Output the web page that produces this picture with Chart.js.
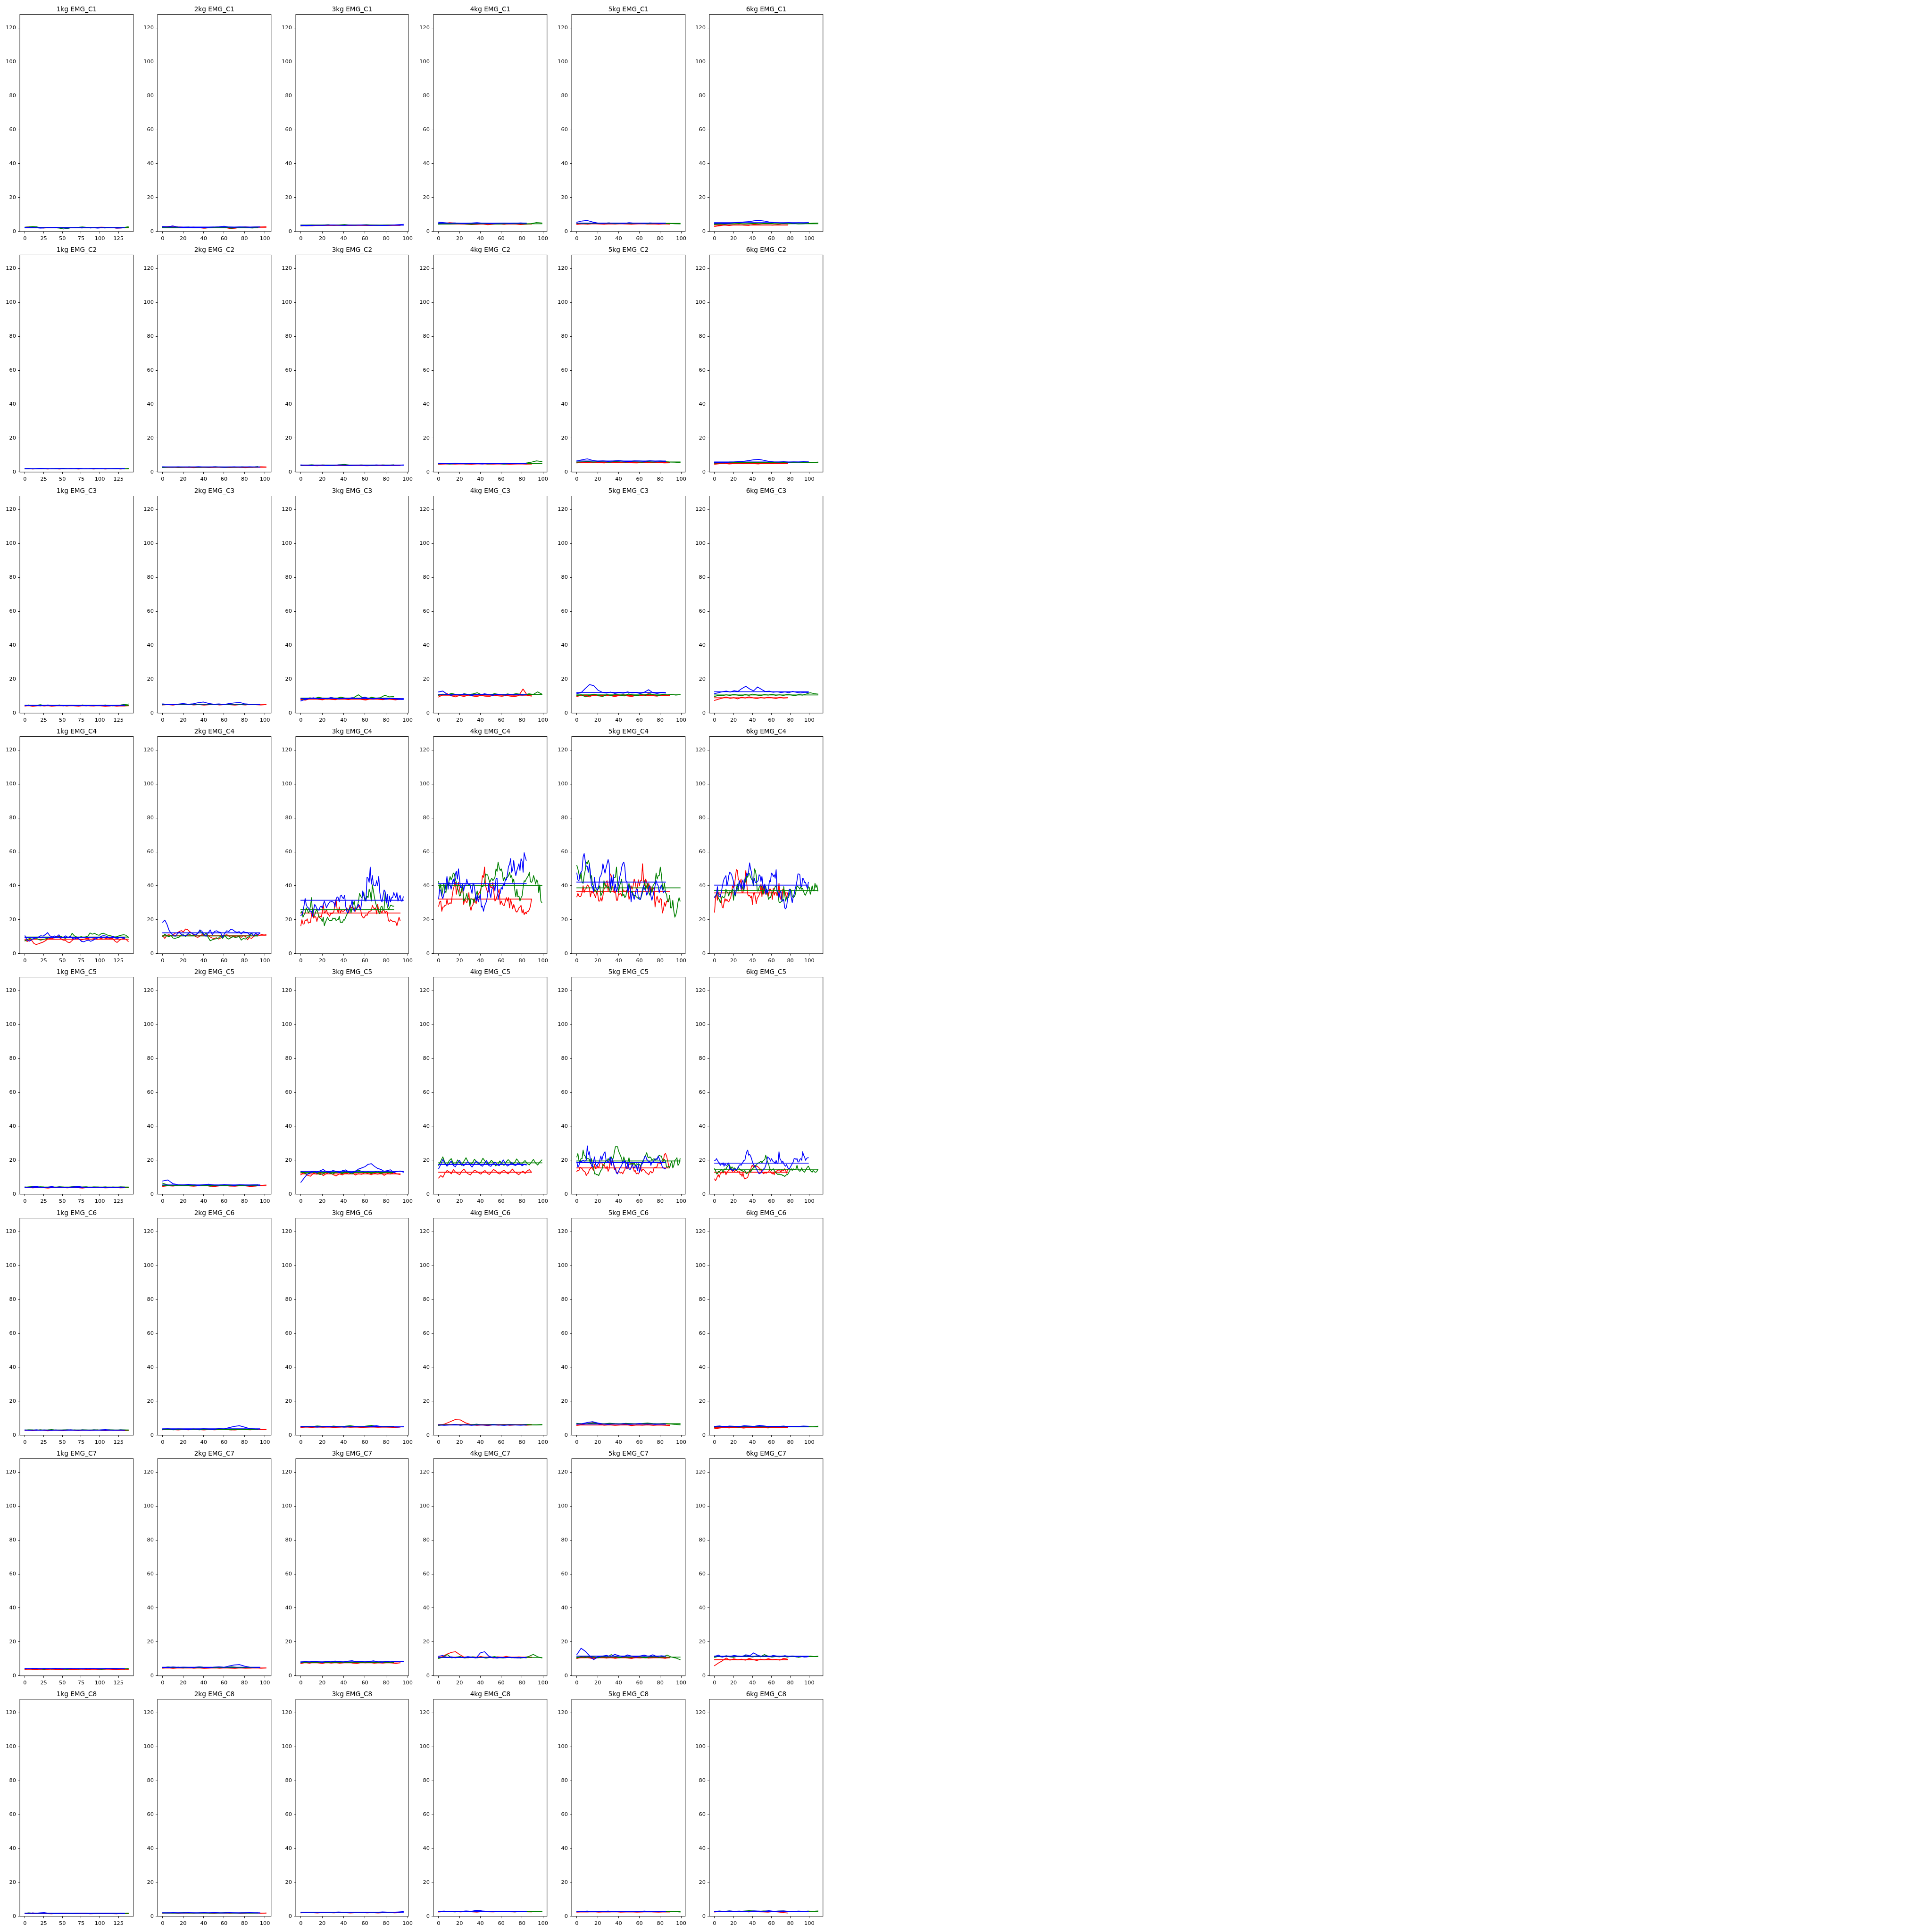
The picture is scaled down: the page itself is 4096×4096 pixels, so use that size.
<!DOCTYPE html>
<html><head><meta charset="utf-8">
<script src="https://cdn.jsdelivr.net/npm/chart.js"></script>
<style>
html,body{margin:0;padding:0;background:#fff;}
#wrap{position:relative;width:4096px;height:4096px;overflow:hidden;background:#fff;}
.cell{position:absolute;}
.cell canvas{display:block;}
</style>
</head><body><div id="wrap"></div>
<script>
// ---------------- DATA ----------------
const weights = ['1kg', '2kg', '3kg', '4kg', '5kg', '6kg'];
const channels = ['EMG_C1', 'EMG_C2', 'EMG_C3', 'EMG_C4', 'EMG_C5', 'EMG_C6', 'EMG_C7', 'EMG_C8'];
const colors = ['red', 'green', 'blue'];
// last sample index of each trial, per weight
const redLast = [138, 101, 93, 89, 89, 77];
const greenLast = [138, 93, 87, 99, 99, 109];
const blueLast = [133, 95, 96, 84, 85, 99];
const yTicks = [0, 20, 40, 60, 80, 100, 120];
const xTicks1kg = [0, 25, 50, 75, 100, 125];
const xTicksOther = [0, 20, 40, 60, 80, 100];

// ---- EMG_C1 ----
const C1_red = [
 [2.5,2.7,2.8,2.6,2.2,2.1,2.2,2.3,2.2,2.4,2.3,2.1,2.2,2.3,2.2,2.3,2.4,2.2,2.3,2.5,2.6,2.5,2.4,2.2,2.0,2.1,2.2,2.3],
 [2.8,3.0,3.1,2.7,2.5,2.4,2.6,2.3,1.9,2.2,2.5,2.6,2.4,1.8,1.9,2.4,2.7,2.5,2.6,2.7,2.8],
 [3.3,3.5,3.4,3.6,3.5,3.7,3.6,3.8,3.7,3.6,3.8,3.7,3.5,3.6,3.7,3.5,3.6,3.8,3.7],
 [4.6,4.8,5.2,5.0,4.6,4.3,4.1,4.2,4.4,4.0,4.3,4.5,4.2,4.6,4.4,4.1,4.3,4.5],
 [4.2,4.6,4.3,4.8,4.5,4.3,4.6,4.4,4.7,4.5,4.3,4.6,4.8,4.4,4.5,4.3,4.6,4.4],
 [3.0,3.4,3.8,3.5,3.9,4.0,3.7,3.6,4.2,4.0,3.8,3.9,3.7,4.1,3.8,3.9]];
const C1_green = [
 [2.6,2.7,2.9,2.8,2.3,2.2,2.4,2.3,2.2,2.0,1.5,1.7,2.2,2.3,2.5,2.7,2.5,2.4,2.3,2.2,2.2,2.4,2.3,2.1,2.5,2.3,2.4,2.8],
 [2.3,2.4,2.2,2.3,2.5,2.6,2.2,2.4,2.1,2.3,2.4,2.5,2.4,1.9,2.3,2.4,2.2,2.1,2.3],
 [3.4,3.6,3.9,3.7,3.8,4.0,3.7,3.9,4.1,3.8,3.7,3.9,4.0,3.8,3.6,3.7,3.9,3.8],
 [4.3,4.5,4.4,4.6,4.7,4.5,4.3,4.6,4.8,4.7,4.5,4.4,4.6,4.8,5.0,4.7,4.4,4.6,5.3,5.0],
 [5.0,4.8,4.6,5.0,4.7,4.9,5.1,4.6,4.8,4.9,4.7,5.0,4.8,4.6,4.9,5.0,4.7,4.8,4.6,4.5],
 [4.2,4.4,4.3,4.6,4.5,4.7,4.4,4.6,4.8,4.5,4.7,4.9,4.6,4.5,4.7,4.6,4.8,4.5,4.6,4.7,4.9,5.0]];
const C1_blue = [
 [2.5,2.4,2.3,2.2,2.0,2.1,2.4,2.3,2.5,2.2,2.1,2.0,2.2,2.3,2.2,2.1,2.3,2.1,2.2,2.0,2.2,2.1,2.3,2.2,2.0,2.1,2.2],
 [3.0,2.7,3.3,2.6,2.3,2.4,2.2,2.3,2.3,2.5,2.6,2.8,3.1,2.6,2.5,2.7,2.6,2.5,2.6,2.7],
 [3.6,3.4,3.5,3.7,3.6,3.8,3.9,3.7,3.6,3.8,3.7,3.9,3.8,3.6,3.7,3.5,3.6,3.8,4.0,4.2],
 [5.5,5.2,4.9,5.1,4.8,4.7,5.0,5.2,4.9,4.8,4.7,4.9,5.0,4.8,4.9,5.1,4.9],
 [5.5,6.2,6.5,5.6,5.0,4.8,5.1,4.9,5.0,4.7,5.2,4.9,5.0,4.8,5.1,4.9,4.8,4.9],
 [4.8,5.0,4.7,4.9,5.2,5.4,5.6,5.8,6.3,6.5,6.2,5.6,5.3,5.1,5.0,5.2,4.9,5.1,5.0,5.2]];
const C1_mean = [[2.3,2.4,2.2],[2.5,2.3,2.6],[3.6,3.8,3.7],[4.4,4.6,4.9],[4.5,4.8,5.0],[3.8,4.6,5.2]];

// ---- EMG_C2 ----
const C2_red = [
 [1.9,2.0,1.8,1.9,2.1,1.9,1.8,2.0,1.9,1.8,1.9,2.0,2.1,1.9,1.8,1.9,2.0,1.9,1.8,2.0,1.9,1.8,1.9,2.0,1.9,1.8,1.9,2.0],
 [2.9,2.8,3.0,2.7,2.8,2.9,2.6,2.8,2.9,2.7,2.8,3.0,2.8,2.7,2.9,2.8,2.6,2.8,2.9,3.1,3.0],
 [3.8,4.0,3.9,3.7,4.0,3.9,3.8,4.1,3.9,3.8,4.0,3.9,3.7,3.9,4.0,3.8,3.9,4.0,3.9],
 [4.6,4.8,5.0,4.7,4.9,4.8,4.6,4.9,5.0,4.8,4.7,4.9,4.8,4.6,4.8,4.9,4.7,4.8],
 [5.4,5.6,5.5,5.8,5.6,5.4,5.7,5.5,5.6,5.8,5.5,5.4,5.6,5.7,5.5,5.6,5.4,5.5],
 [4.6,4.9,5.1,4.8,5.0,5.2,4.9,5.1,5.0,4.8,5.2,5.0,4.9,5.1,5.0,5.2]];
const C2_green = [
 [2.0,2.1,1.9,2.0,2.1,2.0,1.9,2.0,2.1,2.0,2.2,2.0,1.9,2.0,2.1,2.0,1.9,2.0,2.1,2.0,1.9,2.0,2.1,2.0,2.1,2.0,1.9,2.1],
 [2.7,2.9,3.0,2.8,2.9,3.1,2.9,2.8,3.0,2.9,3.2,2.9,2.8,3.0,2.9,3.1,3.0,2.9,3.3],
 [3.9,4.1,4.3,4.0,4.2,4.1,3.9,4.3,4.5,4.1,4.0,4.2,4.1,3.9,4.0,4.2,4.1,4.3],
 [4.8,5.0,4.7,4.9,5.1,4.8,5.0,4.9,5.2,4.8,4.9,5.0,4.7,4.9,5.1,5.0,5.3,5.8,6.6,6.2],
 [5.8,6.0,6.2,5.9,6.1,6.0,5.8,6.2,6.0,5.9,6.1,6.0,5.8,6.1,5.9,6.0,6.2,5.9,5.8,5.6],
 [5.3,5.5,5.4,5.7,5.6,5.5,5.8,5.6,5.5,5.7,5.6,5.8,5.5,5.6,5.7,5.5,5.6,5.8,5.6,5.5,5.7,5.9]];
const C2_blue = [
 [2.1,2.0,1.9,2.0,2.2,2.1,2.0,1.9,2.0,2.1,2.0,1.9,2.1,2.0,2.2,2.0,1.9,2.0,2.1,2.0,2.1,2.0,1.9,2.0,2.1,2.0,2.1],
 [3.1,3.0,2.9,3.1,3.0,2.9,3.0,3.2,3.0,2.9,3.1,3.0,2.8,3.0,3.1,2.9,3.0,3.1,3.0,2.9],
 [4.2,4.0,3.9,4.1,4.0,3.8,4.0,4.2,4.1,3.9,4.0,4.1,3.9,4.0,4.2,4.0,3.9,4.1,4.0,4.2],
 [5.2,5.0,4.9,5.3,5.1,4.9,5.2,5.0,4.8,5.1,5.0,4.9,5.2,5.0,4.9,5.1,5.0],
 [6.5,7.2,7.8,6.9,6.4,6.6,6.3,6.5,6.8,6.4,6.2,6.6,6.5,6.3,6.7,6.4,6.5,6.3],
 [5.6,5.8,5.5,5.9,6.0,6.2,6.4,6.8,7.3,7.5,6.9,6.3,6.0,5.9,6.1,5.8,6.0,5.9,6.1,6.0]];
const C2_mean = [[1.9,2.0,2.0],[2.8,2.9,3.0],[3.9,4.1,4.0],[4.8,5.0,5.0],[5.6,6.0,6.5],[5.0,5.6,6.0]];

// ---- EMG_C3 ----
const C3_red = [
 [4.2,4.5,4.0,4.3,4.6,4.2,4.4,4.1,4.3,4.6,4.4,4.2,4.5,4.3,4.1,4.4,4.6,4.3,4.2,4.5,4.3,4.0,4.2,4.4,4.1,4.3,4.2,4.4],
 [4.8,5.0,4.7,5.2,4.9,5.1,4.8,5.0,4.7,4.9,5.1,4.8,5.0,4.9,4.7,5.0,4.8,5.1,4.9,4.8,5.0],
 [8.0,7.6,8.4,9.0,8.2,7.8,8.5,8.1,7.9,8.6,8.3,8.0,8.4,8.8,8.1,7.7,8.3,8.6,8.2,7.9,8.4,8.1,7.8,8.2],
 [9.5,10.8,11.5,10.2,9.6,10.4,9.8,10.6,10.1,9.7,10.5,10.0,9.8,10.6,10.2,9.9,10.4,10.0,9.7,10.3,14.2,10.5,10.0],
 [9.8,10.5,10.1,9.6,10.8,10.2,9.9,10.6,10.3,9.7,10.4,10.9,10.1,9.8,10.5,10.2,10.7,11.5,10.3,10.0,10.6,10.2,10.4],
 [7.5,8.2,8.8,9.5,8.7,9.1,8.4,9.3,8.9,9.6,9.0,8.5,9.2,8.8,9.4,9.0,8.6,9.3,8.9,9.1]];
const C3_green = [
 [4.5,4.8,4.4,4.6,4.9,4.5,4.7,4.4,4.6,4.8,4.5,4.3,4.7,4.6,4.4,4.8,4.6,4.5,4.7,4.4,4.6,4.8,4.5,4.3,4.6,4.8,5.1,5.3],
 [4.9,5.2,5.0,5.3,5.1,4.9,5.2,5.0,5.3,5.1,4.9,5.2,5.0,5.4,5.1,4.9,5.2,5.0,5.1],
 [8.5,8.2,9.0,8.6,9.3,8.8,8.4,9.1,8.7,9.4,8.9,8.6,9.2,10.8,9.0,8.5,9.3,8.8,9.1,10.5,9.6,9.8],
 [10.5,11.2,10.8,11.6,11.0,10.6,11.4,10.9,11.3,12.0,10.8,11.2,10.7,11.5,11.0,10.6,11.3,10.9,11.5,11.1,10.8,11.4,11.0,12.5,11.2],
 [10.2,10.8,9.6,10.5,11.2,10.4,9.8,10.9,10.3,11.0,10.6,10.1,11.3,10.7,10.2,11.0,10.5,11.4,10.8,10.3,11.1,10.7,11.0,10.6,10.9],
 [9.8,10.5,10.2,10.8,10.4,11.0,10.6,10.2,10.9,10.5,11.2,10.7,10.3,10.9,10.6,11.1,10.5,10.8,10.4,11.0,10.7,10.3,10.9,10.6,11.3,12.0,11.5,11.2]];
const C3_blue = [
 [4.6,4.4,4.7,4.5,4.3,4.6,4.8,4.5,4.4,4.6,4.3,4.5,4.7,4.4,4.6,4.5,4.3,4.6,4.4,4.5,4.7,4.4,4.3,4.5,4.6,4.7,4.8],
 [5.4,5.1,5.0,5.3,5.6,5.2,5.5,6.2,6.5,5.7,5.2,5.4,5.1,5.6,6.0,6.3,5.5,5.2,5.3,5.1],
 [7.2,8.0,8.6,9.0,8.4,8.8,8.5,9.2,8.7,8.3,8.9,8.6,9.1,8.5,8.8,9.4,8.6,8.3,8.9,8.5,8.2,8.7,8.4,8.1,8.0],
 [12.5,13.0,11.2,10.5,11.0,10.6,11.3,10.8,10.4,11.1,10.7,11.4,10.9,10.5,11.2,10.8,10.6,11.0,10.7,10.9,10.6,10.8],
 [11.5,12.0,14.5,16.8,16.2,13.5,12.3,11.8,12.4,11.6,12.1,11.7,12.5,11.9,12.2,11.5,12.3,13.8,12.0,11.6,12.1,11.8],
 [11.5,12.0,12.6,13.0,12.4,13.2,12.8,14.5,15.8,14.2,13.1,15.4,14.0,12.7,12.9,12.3,12.6,12.1,12.5,12.0,12.8,12.2,11.9,12.3,12.1]];
const C3_mean = [[4.3,4.6,4.5],[4.9,5.1,5.3],[8.2,8.8,8.6],[10.2,11.0,10.8],[10.4,10.8,12.2],[9.0,10.7,12.6]];

// ---- EMG_C4 ----
const C4_red = [
 [8.0,7.2,8.1,7.8,6.0,5.4,5.8,6.3,6.8,7.5,8.5,9.0,8.8,9.4,9.8,10.2,8.6,8.0,7.9,6.8,6.5,7.8,8.7,9.2,8.6,8.0,8.4,8.8,9.1,8.5,8.7,9.0,8.4,8.6,9.0,8.5,8.9,9.3,8.8,9.1,7.5,6.6,7.8,8.6,9.0,8.5,7.2],
 [10.5,9.0,10.8,11.2,10.6,11.0,12.0,12.3,13.0,13.6,12.8,14.5,14.2,13.0,12.2,11.0,10.0,9.6,10.4,11.2,10.8,12.0,10.6,9.8,9.2,9.0,9.4,8.6,9.2,10.5,10.8,11.2,10.4,9.6,10.2,10.0,9.8,10.4,9.6,10.6,10.2,8.2,9.5,9.0,10.0,11.0,11.2,10.8,11.4,11.0,11.2],
 [16.5,20,17.5,17.5,19.8,19.5,20.5,18,18.5,18.5,23,27,21,22,21.5,19,21.5,22,22,21.5,24,29,24,24.5,26,23.5,23,22,24,23.5,24,25,30,32,26,24,27.5,24,25.5,25,25,25.5,26,27,25.5,24,28.5,27,27.5,26.5,27,25,26.5,27,28,28.5,26,22.5,21.5,21,22,23,22.5,24,25,25,25.5,28.5,27,26.5,27,23.5,29,25,25,25,24,26,25.5,24,25,24.5,19.5,19,20,19.5,19,19,19,18.5,16.5,19,21.5,19.5],
 [28,30.5,31,25,27.5,27.5,28.5,28.5,32,29,29.5,30,29.5,34,38,40,42,35,39,42,38,35,37,40,29,32,31,30,32,36,28,25.5,28,29,32,31,29.5,33,35,36,37,40,46,45,51,40,38,36,37,42,39,39,42,36,31,32,34,36,38,29,31,29.5,28.5,28.5,31,33,31,33,27,32,29.5,26.5,29,27,25,24.5,25.5,27,27.5,28.5,24,26,23,24.5,23.5,25,25,26,28,32],
 [33.5,35.5,34,33.5,34,36,40,36,38,38.5,40.5,40,39,33.5,36.5,36,36,34.5,33,37,35,31,31,33,31,34,38,39,42,43,37,41,47,46,42,36.5,36,37,31.5,31.5,35.5,35,35.5,34,38,36.5,37,36.5,37.5,38.5,32,34,40,38,40,44,42,38,39,43.5,40,43,43,53,43,40,44,42,38,41.5,37,39.5,37,38,39,27.5,32,34,31,30,32.5,32,24,26,30,28,31,30.5,31.5,33.5],
 [24.5,33,35.5,31.5,36,35,35,32,27.5,27,30,32.5,31,32,31,30.5,32,33,36,40,39,40,45,49.5,49,44,43,42,44,36,36,41,43.5,49,41,35,34,34.5,33,34,29,35.5,36,33.5,29.5,32.5,33.5,34.5,36,41,33.5,40.5,35,38.5,36.5,35,37,34,38,38,36,32,38.5,34.5,36,36,34,36,41.5,34,32,33,38,37.5,37,35,33,35.5]];
const C4_green = [
 [7.5,8.2,9.0,8.6,8.8,9.2,8.4,8.0,8.3,8.7,9.1,9.5,9.8,9.3,9.6,9.9,10.2,9.4,9.1,9.7,9.5,12.0,10.5,9.8,9.4,10.0,9.6,9.9,10.3,12.2,11.5,12.0,11.2,10.8,11.8,12.0,11.4,10.8,10.6,10.2,9.8,10.0,10.6,10.9,11.2,10.8,9.6],
 [10.0,11.5,10.6,10.0,10.8,9.2,9.0,9.4,9.8,11.0,11.2,10.2,11.5,11.4,10.6,10.8,11.2,12.0,13.5,12.0,11.0,12.0,9.6,7.6,8.2,8.6,8.8,9.2,10.4,9.0,10.8,9.2,8.6,9.4,10.0,9.6,9.8,10.0,8.0,9.0,8.6,9.4,10.2,12.0,10.6,10.8,10.4],
 [24,25,21.5,23,24,27,26,24,25,28,33,22.5,22,23,25,26,24,21.5,21,20.5,19,21.5,16.5,18.5,20,21.5,20,19.5,19.5,19.5,21,20.5,21,19.5,20,20,22,18.5,18.5,18.5,20,19.8,21.5,23,24,26,27.5,24,27,29,31,27,26,28,31,35.5,34,33,34,36,31,31.5,34,33,38,36,31,40.5,37,33,30,28,26,24.5,23.5,27.5,28,25.5,26.5,36,32,28,26,27,28.5,28.5,28,28],
 [42.5,38,41,34,38,41.5,37,36,42,40,43,45.5,43.5,45,47.5,47,44,42,38.5,37,34,34.5,38,39.5,31,32,33,35.5,32,32.5,28,32.5,32,32,30,33,35,37,33,33,35,40,39.5,40,42,47,46.5,46.5,44,42,43.5,44.5,43,44,45,50,48.5,54,51,49,50,48,43,45,43,45,45,46,48,45,46,42,44,37.5,33.5,38,33.5,34,31,33,34,39,43,42.5,44,45,46,48,42.5,42,43,46,44,41,43.5,42.5,36,40.5,31,30],
 [52,50,47,44,48,42,41.5,46,49,54,53,55,53,44.5,46,41,40,37,37.5,36,38,38.5,40,34,35.5,37,43,40,40.5,39,39.5,38.5,36,37.5,41,44.5,45,45,51,43,36,40,42,44,34,35,33,34,37,38,41.5,38,36,37,35,34,34.5,33.5,33,32.5,33,32,34,36,39,43,38,40,41.5,36,34.5,38,36,40,41,42,47.5,44,46,46,51,47,40,38,41.5,36,35,31,30.5,34.5,27,27,31.5,25,21.5,23,26,30.5,33,31],
 [33.5,34,35,36.5,32.5,32,30,32,34,33,33,34,38,36.5,36,34,36.5,36,36.5,38,31.5,37,34,38,41,37,42,41,39,40,38,37,44,42,46,45,47.5,47,45,44,43,40,50,49,46,37,37,39,40,40,39,35,37,40,39.5,36.5,35,32,33,33,35,36,37,38,39.5,40,36.5,35,30.5,30,30.5,31,32,39.5,35,31,33,33.5,33,35,38,37,34,33,33.5,34.5,37,40,39.5,39,38,39.5,38,38.5,36.5,35,34.5,36,37,39.5,39,35,37,40,37.5,37,41.5,39,40.5,37]];
const C4_blue = [
 [10.5,7.8,7.4,8.2,9.0,9.4,9.8,10.6,10.3,11.2,12.4,10.5,9.8,10.4,10.0,11.1,9.2,9.6,10.5,9.5,10.2,9.0,8.6,9.4,8.5,7.2,7.0,7.6,8.0,7.3,7.8,8.6,9.2,9.6,10.4,10.6,10.3,9.5,9.8,10.1,9.2,9.0,9.6,9.3,9.0],
 [18.5,19.8,17.5,14.0,12.0,11.0,10.2,11.5,12.8,11.4,10.6,10.5,11.2,12.6,12.2,11.4,11.0,12.0,14.0,13.2,11.0,10.2,12.2,14.0,11.2,13.0,13.5,12.8,12.5,9.6,12.0,13.5,13.0,14.5,14.0,13.0,12.6,13.0,11.6,13.0,12.6,12.5,11.2,12.2,10.6,12.0,11.2,12.0],
 [22.5,23,25,28.5,32.5,29,27.5,27,26,25,25,22,26,29,28,26.5,26,25.5,27.5,28,27,29,31,29,27,28.5,29.5,30.5,30.5,30.8,30.5,30,27.5,32,33.5,33,30.5,34,34.5,33,32.5,34.5,28,25,24,25.5,27,28.5,31.5,27,25,26,26.5,28,29,27,26,30,37,34,33,31,45,44.5,42,51,41,46,40.5,40,40,43,40,45.5,36,32,30.5,34,37.5,36.5,30,35,28,34,30.5,33,33,36,34.5,33,36,31,33,34.5,31,31,33.5],
 [32.5,38,37,34,32.5,35,37,41,45.5,38,42,40.5,38,41,44,41.5,47,48.5,44,50,44,39,39,41,37,40.5,40,44,41,40.5,41,38,35.5,41.5,40.5,36,31,34.5,30.5,33,35,27.5,28,25,28,29.5,31,35,41,36,33,38,39,40,37,44,44.5,32,35,35.5,39,38,41,40,44,43.5,47,51.5,52.5,56,48,49.5,55,49,46,49,51,53,49,56,54.5,48,59.5,57,55],
 [47.5,43.5,43,47,48,49,57,59,55,51.5,51.5,48,52.5,48,40,39.5,36.5,45,39,38,37.5,40,45,46,48,53,50,47.5,50.5,53,55.5,53,38,45,40,46.5,37,41,36.5,38.5,40.5,45,47,51,53,54,51,43,42.5,36,40,40,30.5,36,34,32,35,38,38,32.5,32,32,35,38,40,38,37.5,34.5,36,39,40,34,31.5,34,37,40,43,41,40,36,38.5,40.5,38.5,36,37,36.5],
 [33,34,35,39.5,34,34,33.5,36,39,42,44,45,46,40,42,46,48,47.5,46.5,44.5,42.5,34.5,35,37.5,38,39,43,41,38,42,43.5,38,42,45,47.5,46,49,53.5,50,48,43,41,44.5,42,42,42.5,43,46.5,46,42.5,45.5,40.5,38.5,41,35,38,36,39,43,42.5,47.5,47,45.5,46.5,44.5,49.5,37,36.5,33,36,37,31,31,32,27,26.5,27.5,32,35,38,37,33,30,33.5,35,38,40,43,47,47,46.5,40,39.5,44.5,44,42,42,40,38.5,42]];
const C4_mean = [[8.5,9.8,9.6],[10.8,10.4,12.3],[24.0,26.0,31.5],[32.2,40.2,41.3],[36.7,38.8,42.2],[35.8,37.2,40.4]];

// ---- EMG_C5 ----
const C5_red = [
 [3.8,4.0,3.7,3.9,4.2,3.8,3.6,3.9,4.1,3.8,4.0,3.7,3.9,4.1,3.8,3.6,3.9,4.0,3.8,4.1,3.9,3.7,3.8,4.0,3.9,3.7,3.8,3.9],
 [4.6,5.0,4.8,5.2,5.4,4.9,4.7,5.0,5.3,4.8,4.6,4.9,5.1,4.8,4.7,5.0,4.9,4.6,4.8,5.2,5.4],
 [11.5,12.8,11.2,10.6,12.4,11.8,12.6,11.0,12.2,13.0,11.6,10.8,12.0,11.4,12.6,11.9,12.8,11.3,12.1,11.7,12.9,12.2,11.5,12.4,11.8,12.6,11.1,12.3,11.9,12.7,12.0,11.6],
 [9.5,11.0,10.0,12.5,14.0,13.2,12.0,14.5,13.0,12.2,11.5,13.6,14.8,13.0,12.0,11.4,12.8,14.2,13.5,12.6,11.8,13.2,14.0,12.4,11.6,13.0,14.6,13.8,12.5,11.9,13.4,14.2,12.8,12.0,13.5,14.8,13.2,12.4,11.5,12.8,13.6,12.2,13.8,14.5,13.0],
 [13.5,14,14,16,15.5,15,14,13.5,13,11,12,12.5,14.5,15,16,15,14,17.5,15,15.5,16.5,15.5,18,19,18.5,16.5,17.5,16,15,16.5,13.5,15,20,17,20,18.5,14.5,15.5,13,12.5,13.5,13,12.5,13,12,13.5,14.5,16.5,16,15,17.5,18,19,18.5,16,13.5,14,12,12.5,12,13,16.5,13.5,14.5,14.5,14,13,12.5,12,11.5,13,13.5,12.5,13,15.5,16,15.5,16.5,18.5,18.5,18,18.5,19,20,23.5,24,22.5,20,17,16],
 [9,8,9,10.5,11.5,10,12,12.5,13,12.5,13,13.5,11.5,12.5,13.5,14,14.5,15.5,14,13.5,14,13.5,14,14.5,13.5,13,13.5,11.5,12,10.5,12.5,10,9,9.5,9.5,10,12,13.5,14,16.5,17,16,17,16,16.5,16.5,16,15.5,14,15,13,12.5,12,13,12.5,12.5,13,13,14.5,13,12.5,12,12.5,11.5,13.5,12.5,14,14,14.5,14,13,14.5,14,14,15,14,12.5,14.5]];
const C5_green = [
 [4.0,4.3,4.5,4.1,4.4,4.2,3.9,4.3,4.1,4.4,4.2,4.0,4.3,4.5,4.1,4.2,4.4,4.0,4.3,4.2,4.1,4.3,4.0,4.2,4.1,4.3,4.2,4.0],
 [6.5,5.4,5.0,5.3,4.9,5.2,5.5,5.0,5.2,4.8,5.1,5.4,5.0,5.3,5.1,4.9,5.2,5.4,5.6],
 [13.2,12.6,11.8,12.9,13.5,12.4,11.6,12.2,13.0,12.5,11.9,13.3,12.8,12.1,13.6,12.7,12.0,13.1,14.2,13.4,12.6,13.0,12.3,12.9,13.5,12.2,12.8,13.1,12.5,12.9],
 [17.0,19.5,22.0,18.5,17.2,19.8,21.0,18.0,17.5,20.2,18.6,17.0,19.4,21.5,19.0,17.8,18.4,20.6,19.2,17.6,18.8,21.2,19.5,17.9,18.3,20.0,18.7,16.8,17.5,19.6,18.2,17.0,18.9,20.4,19.1,17.7,18.5,20.8,19.3,17.4,18.6,19.9,18.1,17.3,18.8,20.5,18.4,17.2,19.0,20.2],
 [22,24,20,19,21,21,26,23,22.5,20.5,21,21,20.5,18,21,17,16,12,12,11.5,11.5,11,12.5,14,14.5,17,17.5,18.5,20,19.5,21,20,21.5,22,20,21.5,25,28,28,28,25.5,24,22.5,21,18,22,20,19,18,19,21.5,18,17.5,19,17.5,18.5,16.5,18,17.5,18,17.5,16.5,18,19.5,20,22,23,24.5,22,21.5,22,21.5,20,20.5,21,20,20.5,21,22,23,22.5,22.5,20.5,19.5,20.5,19.5,16,16,16.5,15.5,18,19.5,15.5,17,20,20.5,21.5,17,18,21],
 [15,14,12,12,13.5,13,14,14.5,14,13,14.5,15,14.5,16,16.5,17.5,17,15,16,16,14.5,15.5,15,14,15,16,15,14.5,14,14,13.5,13.5,14,12.5,12,13,13,14,13,14,15,15.5,16,17,17,18,18.5,18.5,19,19.5,18.5,19.5,20,20.5,23,21,19,18,15.5,14.5,14,14.5,15,14,13,12.5,12,11.5,12,11.5,11.5,11.5,11,11,10.5,11,11.5,11.5,12.5,13.5,14.5,15,14,15,14.5,14.5,15,17,15,14,13.5,14,15.5,14,13.5,13,14,15,16,16.5,15.5,14,13.5,13,14,13.5,13,13,13.5,14.5]];
const C5_blue = [
 [4.2,4.0,4.4,4.6,4.1,3.9,4.2,4.5,4.0,4.3,4.1,3.9,4.2,4.4,4.6,4.2,4.0,4.1,3.9,4.2,4.0,3.8,4.1,3.9,4.0,4.2,4.1],
 [7.8,8.4,6.2,5.6,5.4,5.8,5.5,5.2,5.6,5.9,5.4,5.3,5.7,5.5,5.2,5.6,5.4,5.3,5.5,5.2],
 [7.0,9.5,11.8,12.6,13.4,12.8,13.8,14.6,13.2,12.9,14.0,13.5,12.7,13.9,14.3,13.1,12.8,13.6,14.8,15.5,16.2,17.6,18.0,16.4,15.2,14.6,13.5,13.9,14.4,12.8,13.3,13.7,13.0],
 [15.0,17.5,20.5,18.2,16.5,17.8,19.6,17.0,16.2,18.4,20.0,17.6,16.8,18.0,19.2,17.4,16.0,17.8,19.5,18.6,17.2,16.5,18.2,19.8,17.0,16.4,17.9,19.0,17.5,16.8,18.3,20.2,18.0,16.6,17.4,18.8,17.3,16.9,18.5,17.7,16.8,17.6,17.2],
 [19,16,17,19.5,19,19.5,20,19.5,19.5,20,28.5,23.5,25,20,17,16,19.5,22,17.5,16.5,17.5,18.5,20,22.5,20,22.5,24,25,20,19.5,18.5,20,22,17,21,18.5,16,14.5,12.5,12,13.5,15,16,17,19.5,18.5,20,16,15,19,15,14.5,15.5,17.5,16,15.5,16.5,17,14,17.5,13,15,17.5,18,20,22,22.5,20.5,20,18.5,19.5,17,19,19,20,20.5,21,20.5,22.5,21,19.5,18,16,15.5,15,15],
 [20,20,21,20,19,18.5,17,18,17.5,18.5,16.5,18,17,17,18,18.5,15,14.5,15,14,14,15,14.5,14.5,15,16,17,17.5,17,18,19,20,20,23,25,26,23,23.5,22.5,21,19,17.5,16.5,16.5,15,14,13,12,12.5,12.5,13.5,14,15,15.5,17,19,22,21.5,21,19.5,21,20,19,19,18,20,18,18.5,25,21,20,18.5,19.5,18,17,16.5,17.5,16,15,15,16,17,18,19,21,21,20.5,21,19,19,20.5,21,20,25,23,22,20,21,21.5,21.5]];
const C5_mean = [[3.9,4.2,4.1],[4.9,5.2,5.5],[12.0,12.8,13.5],[13.0,18.5,17.5],[15.5,19.6,18.6],[13.0,14.7,18.3]];

// ---- EMG_C6 ----
const C6_red = [
 [2.8,3.0,2.7,2.9,3.1,2.8,2.6,2.9,3.0,2.8,2.7,2.9,3.1,2.8,2.7,2.9,3.0,2.8,2.9,3.1,2.8,2.7,2.9,3.0,2.8,2.9,2.7,2.8],
 [3.2,3.5,3.3,3.1,3.4,3.2,3.5,3.3,3.1,3.4,3.2,3.3,3.5,3.2,3.1,3.4,3.3,3.2,3.5,3.3,3.4],
 [4.5,4.9,4.6,5.0,4.7,4.9,4.6,4.8,5.1,4.7,4.9,4.6,4.8,5.0,4.7,4.9,4.8,4.6,4.9],
 [5.8,6.5,7.8,9.2,9.0,7.2,6.2,5.8,6.0,5.7,6.1,5.9,6.3,5.8,6.0,6.2,5.9,6.1],
 [5.8,6.2,6.8,7.5,6.4,5.9,6.1,5.8,6.0,6.2,5.7,6.0,5.9,6.1,5.8,6.0,5.9,5.7],
 [3.8,4.2,4.6,4.3,4.8,4.5,4.2,4.6,4.4,4.7,4.5,4.3,4.6,4.8,4.5,4.6]];
const C6_green = [
 [3.0,3.2,3.1,2.9,3.2,3.0,3.1,3.3,3.0,2.9,3.1,3.2,3.0,3.1,2.9,3.2,3.1,3.0,3.2,3.1,2.9,3.0,3.2,3.1,3.0,3.2,3.1,3.0],
 [3.3,3.5,3.2,3.4,3.6,3.3,3.4,3.2,3.5,3.3,3.4,3.6,3.3,3.2,3.5,3.4,3.3,3.5,3.4],
 [5.0,5.3,5.1,5.5,5.2,5.0,5.4,5.1,5.3,5.6,5.2,5.0,5.4,5.8,5.3,5.1,5.3,5.2],
 [5.8,6.2,6.0,6.4,5.9,6.3,6.1,6.5,6.0,6.2,6.4,6.1,5.9,6.3,6.2,6.0,6.4,6.2,6.1,6.3],
 [7.0,6.6,6.8,7.3,6.9,6.7,7.1,6.8,6.6,7.0,6.8,6.5,6.9,7.2,6.8,6.6,6.9,6.7,6.4,6.2],
 [4.8,5.1,4.9,5.2,5.0,4.8,5.1,5.3,4.9,5.0,5.2,4.8,5.1,4.9,5.0,5.2,5.1,4.9,5.0,5.2,5.1,5.3]];
const C6_blue = [
 [3.1,2.9,3.0,3.2,2.9,3.1,3.0,2.8,3.1,3.0,2.9,3.1,3.2,3.0,2.9,3.1,3.0,2.9,3.1,3.0,3.2,3.3,3.1,2.9,3.0,3.1,3.0],
 [3.6,3.8,3.5,3.7,3.6,3.4,3.7,3.5,3.8,3.6,3.5,3.9,3.7,4.5,5.2,5.6,4.8,3.9,3.7,3.6],
 [5.2,4.9,5.1,4.8,5.0,5.3,4.9,5.1,4.8,5.0,5.2,4.9,5.0,5.3,5.6,5.1,4.9,5.0,4.8,5.1],
 [6.1,5.8,6.0,6.3,5.9,6.2,5.8,6.1,6.0,5.9,6.2,6.0,5.8,6.1,6.0,5.9,6.1],
 [6.5,6.8,7.5,8.0,7.2,6.6,6.4,6.7,6.5,6.8,6.4,6.6,6.9,6.5,6.7,6.4,6.6,6.5],
 [5.2,5.5,5.0,5.4,5.3,5.1,5.6,5.4,5.2,5.8,5.5,5.1,5.3,5.2,5.4,5.1,5.3,5.2,5.4,5.3]];
const C6_mean = [[2.9,3.1,3.0],[3.3,3.4,3.8],[4.8,5.2,5.0],[6.3,6.2,6.0],[6.0,6.8,6.6],[4.5,5.0,5.3]];

// ---- EMG_C7 ----
const C7_red = [
 [3.8,4.1,3.9,3.7,4.0,3.8,3.9,4.1,3.8,3.6,3.9,4.0,3.8,3.7,3.9,4.1,3.8,3.9,4.0,3.8,3.9,4.2,4.1,3.8,3.7,3.9,4.0,3.8],
 [4.5,4.8,4.4,4.7,4.6,4.9,4.5,4.7,4.4,4.6,4.8,4.5,4.7,4.6,4.4,4.7,4.5,4.6,4.8,4.5,4.6],
 [7.2,7.8,7.4,8.0,7.6,7.3,7.9,7.5,7.8,7.4,7.7,8.1,7.5,7.3,7.8,7.6,7.9,7.4,7.7,7.5,7.8,7.6,7.3,7.7],
 [10.5,11.5,12.8,13.8,14.2,12.5,11.0,10.6,11.2,10.8,11.4,10.7,11.0,10.5,11.2,10.8,11.5,10.9,10.6,11.1,10.7,11.0,10.8],
 [10.2,10.8,11.2,10.5,10.0,10.7,11.0,10.4,10.8,10.3,10.6,11.1,10.5,10.2,10.8,10.5,11.0,10.4,10.7,11.2,10.6,10.3,10.8],
 [6.0,7.5,8.8,10.5,9.2,10.0,9.5,9.8,9.2,10.2,9.6,9.0,9.8,9.4,10.1,9.5,9.7,9.2,10.3,9.8]];
const C7_green = [
 [4.0,4.2,4.0,4.3,4.1,3.9,4.2,4.0,4.1,4.3,4.0,3.9,4.1,4.2,4.0,4.1,4.3,4.0,4.2,4.1,3.9,4.0,4.2,4.4,4.3,4.1,4.0,4.2],
 [4.8,5.2,4.9,5.1,4.7,5.0,4.8,5.2,4.9,5.0,4.8,5.1,4.9,5.3,5.0,4.8,5.1,4.9,5.0],
 [7.6,8.2,7.9,8.4,8.0,7.7,8.3,8.0,8.5,7.9,8.2,7.8,8.1,8.4,7.9,8.2,8.0,7.8,8.3,8.1,8.0,8.2],
 [10.2,11.0,12.5,10.6,10.9,11.4,10.5,10.8,11.2,10.6,11.0,10.4,10.9,11.3,10.7,10.5,11.0,10.6,10.9,10.4,10.8,11.5,12.6,11.2,10.5],
 [10.5,11.2,10.8,11.4,11.0,10.6,11.3,10.9,12.5,11.1,10.7,11.2,10.8,11.0,11.4,10.9,10.6,11.1,11.5,10.8,11.2,12.2,11.0,10.5,9.5],
 [10.8,11.5,11.0,11.8,11.2,10.9,11.6,11.3,12.0,11.4,11.1,11.8,11.2,12.5,11.6,11.0,11.4,11.2,11.7,11.0,11.5,11.3,10.9,11.4,11.2,11.6,11.3,11.5]];
const C7_blue = [
 [4.3,4.1,4.4,4.2,4.0,4.3,4.1,4.2,4.4,4.1,4.0,4.2,4.3,4.1,4.2,4.0,4.1,4.3,4.2,4.0,4.1,4.3,4.2,4.1,4.0,4.2,4.1],
 [5.0,4.8,5.2,4.9,5.1,5.0,4.9,5.2,5.0,4.8,5.1,5.3,5.0,5.8,6.4,6.6,5.7,5.1,5.0,4.9],
 [8.0,8.4,8.1,8.6,8.3,8.0,8.5,8.2,8.7,8.4,8.1,8.6,8.9,8.3,8.5,8.2,8.4,8.8,8.3,8.0,8.5,8.2,8.6,8.3,8.4],
 [11.5,12.0,10.8,11.2,10.6,11.0,10.7,11.3,10.9,10.5,13.5,14.2,11.6,10.8,10.4,10.9,10.6,11.0,10.7,10.5,10.8,10.6],
 [12.5,16.2,14.5,11.8,9.5,11.2,11.6,12.0,11.4,12.6,11.8,11.2,12.3,11.6,11.0,11.7,12.2,11.5,12.4,11.3,11.8,11.5],
 [11.5,12.2,11.0,11.8,11.4,12.0,11.6,11.3,12.4,11.8,13.5,12.2,11.5,11.8,11.2,12.0,11.6,11.4,11.9,11.3,11.7,11.2,11.5,11.0,11.3]];
const C7_mean = [[3.9,4.1,4.2],[4.6,4.9,5.1],[7.6,8.0,8.3],[11.0,10.8,10.8],[10.6,11.0,11.6],[9.5,11.3,11.5]];

// ---- EMG_C8 ----
const C8_red = [
 [1.7,1.8,2.0,1.9,1.8,1.7,1.6,1.5,1.7,1.6,1.8,1.7,1.6,1.7,1.8,1.6,1.7,1.5,1.6,1.7,1.8,1.6,1.7,1.6,1.5,1.7,1.6,1.7],
 [1.8,2.0,1.9,1.7,1.9,2.0,1.8,1.9,2.1,1.8,1.7,1.9,2.0,1.8,1.9,1.7,1.8,2.0,1.9,1.8,2.0],
 [2.1,2.3,2.2,2.0,2.3,2.2,2.1,2.3,2.2,2.0,2.2,2.3,2.1,2.2,2.0,2.2,2.3,2.1,2.2],
 [2.6,2.8,2.7,2.9,2.6,2.8,2.7,2.5,2.8,2.7,2.6,2.8,2.9,2.7,2.6,2.8,2.7,2.6],
 [2.5,2.7,2.6,2.8,2.5,2.7,2.6,2.8,2.5,2.6,2.7,2.5,2.6,2.8,2.6,2.5,2.7,2.6],
 [2.6,2.8,2.7,2.9,2.8,2.7,2.9,2.6,2.8,2.7,2.6,2.5,2.8,2.6,2.3,2.0]];
const C8_green = [
 [1.8,2.1,1.9,1.8,1.7,1.9,1.8,1.7,1.6,1.8,1.9,1.7,1.6,1.8,1.7,1.9,1.8,1.6,1.7,1.8,1.7,1.9,1.8,1.7,1.6,1.8,1.7,1.9],
 [2.0,2.1,1.9,2.0,2.2,2.0,1.9,2.1,2.0,1.9,2.1,2.0,2.2,2.0,1.9,2.1,2.0,1.9,2.0],
 [2.3,2.4,2.2,2.3,2.5,2.3,2.2,2.4,2.3,2.2,2.4,2.3,2.5,2.3,2.2,2.4,2.3,2.4],
 [2.7,2.9,2.8,2.6,2.9,2.8,2.7,2.9,2.8,3.0,2.8,2.7,2.9,2.8,2.6,2.8,2.9,2.7,2.8,2.9],
 [2.8,2.9,2.7,3.0,2.8,2.7,2.9,2.8,3.0,2.7,2.8,2.9,2.7,2.8,3.0,2.8,2.7,2.9,2.8,2.6],
 [2.9,3.1,3.0,3.2,3.0,2.9,3.1,3.3,3.2,3.0,3.2,3.1,3.0,3.1,3.2,2.9,2.8,3.0,2.9,3.1,3.0,3.2]];
const C8_blue = [
 [1.9,1.8,2.0,1.9,2.1,2.2,1.9,1.8,1.7,1.8,1.7,1.9,1.8,1.7,1.8,1.9,1.8,1.7,1.8,1.9,1.8,1.7,1.8,1.9,1.8,1.8,1.7],
 [2.1,2.0,2.2,2.1,2.0,2.2,2.1,2.0,2.2,2.1,2.3,2.1,2.0,2.2,2.1,2.0,2.1,2.2,2.1,2.0],
 [2.4,2.3,2.5,2.4,2.3,2.5,2.4,2.6,2.4,2.3,2.5,2.4,2.3,2.5,2.4,2.6,2.5,2.4,2.6,2.8],
 [2.9,3.1,2.8,3.0,2.9,3.2,3.0,3.6,3.2,2.9,2.8,3.0,2.9,2.8,3.0,2.9,2.8],
 [3.0,2.9,3.1,2.8,3.0,2.9,3.1,2.8,3.0,2.9,2.8,3.0,2.9,3.1,2.8,2.9,3.0,2.9],
 [3.0,3.1,2.9,3.2,3.0,3.1,2.9,3.0,3.2,3.1,3.0,3.3,3.0,3.1,3.2,3.0,2.9,3.1,3.0,3.0]];
const C8_mean = [[1.6,1.7,1.8],[1.9,2.0,2.1],[2.2,2.3,2.4],[2.7,2.8,2.9],[2.6,2.8,2.9],[2.7,3.0,3.0]];

// ---------------- LAYOUT ----------------
const S = 0.819;                 // 4096 / 5000
const PITCH_X = 357 * S, PITCH_Y = 623.1 * S;
const AX_L = 51.3 * S, AX_T = 37.3 * S, AX_W = 294 * S, AX_H = 562 * S;
const CW = Math.ceil(PITCH_X) + 1, CH = Math.ceil(PITCH_Y) + 1;
const FF = "'DejaVu Sans'";
const FS_TICK = 13.889 * S, FS_TITLE = 16.667 * S;
const TL = 4.861 * S, TP = 4.861 * S, TW = 1.111 * S;
const LW = 2.083 * S, SPINE = 1.111 * S, TITLE_PAD = 8.333 * S;

Chart.defaults.font.family = FF;
Chart.defaults.color = '#000';

const redAll = [C1_red, C2_red, C3_red, C4_red, C5_red, C6_red, C7_red, C8_red];
const greenAll = [C1_green, C2_green, C3_green, C4_green, C5_green, C6_green, C7_green, C8_green];
const blueAll = [C1_blue, C2_blue, C3_blue, C4_blue, C5_blue, C6_blue, C7_blue, C8_blue];
const meanAll = [C1_mean, C2_mean, C3_mean, C4_mean, C5_mean, C6_mean, C7_mean, C8_mean];

const boxTitlePlugin = {
  id: 'boxTitle',
  afterDatasetsDraw(chart) {
    const a = chart.chartArea, ctx = chart.ctx;
    ctx.save();
    ctx.strokeStyle = '#000';
    ctx.lineWidth = SPINE;
    ctx.strokeRect(a.left, a.top, a.right - a.left, a.bottom - a.top);
    ctx.restore();
  },
  afterDraw(chart, args, opts) {
    const a = chart.chartArea, ctx = chart.ctx;
    ctx.save();
    ctx.font = FS_TITLE + 'px ' + FF;
    ctx.fillStyle = '#000';
    ctx.textAlign = 'center';
    ctx.textBaseline = 'alphabetic';
    ctx.fillText(opts.text, (a.left + a.right) / 2, a.top - TITLE_PAD);
    ctx.restore();
  }
};

function seriesDs(vals, last, color, ord) {
  const n = vals.length;
  return {
    data: vals.map((v, i) => ({ x: i * last / (n - 1), y: v })),
    borderColor: color, borderWidth: LW, pointRadius: 0, pointHoverRadius: 0,
    fill: false, tension: 0, order: ord, borderJoinStyle: 'round', borderCapStyle: 'square'
  };
}
function meanDs(m, last, color, ord) {
  return {
    data: [{ x: 0, y: m }, { x: last, y: m }],
    borderColor: color, borderWidth: LW, pointRadius: 0, pointHoverRadius: 0,
    fill: false, tension: 0, order: ord, borderCapStyle: 'square'
  };
}

const wrap = document.getElementById('wrap');
for (let r = 0; r < channels.length; r++) {
  for (let c = 0; c < weights.length; c++) {
    const M = Math.max(redLast[c], greenLast[c], blueLast[c]);
    const xt = c === 0 ? xTicks1kg : xTicksOther;
    const cell = document.createElement('div');
    cell.className = 'cell';
    cell.style.left = Math.round(c * PITCH_X) + 'px';
    cell.style.top = Math.round(r * PITCH_Y) + 'px';
    cell.style.width = CW + 'px';
    cell.style.height = CH + 'px';
    const cv = document.createElement('canvas');
    cv.width = CW; cv.height = CH;
    cv.style.width = CW + 'px'; cv.style.height = CH + 'px';
    cell.appendChild(cv);
    wrap.appendChild(cell);
    const mean = meanAll[r][c];
    const datasets = [
      seriesDs(redAll[r][c], redLast[c], 'red', 6),
      meanDs(mean[0], redLast[c], 'red', 5),
      seriesDs(greenAll[r][c], greenLast[c], 'green', 4),
      meanDs(mean[1], greenLast[c], 'green', 3),
      seriesDs(blueAll[r][c], blueLast[c], 'blue', 2),
      meanDs(mean[2], blueLast[c], 'blue', 1)
    ];
    const tickCommon = { autoSkip: false, maxRotation: 0, minRotation: 0, padding: TP, color: '#000',
      font: { family: FF, size: FS_TICK }, callback: v => String(v) };
    const gridCommon = { display: true, drawOnChartArea: false, drawTicks: true, tickLength: TL,
      tickWidth: TW, tickColor: '#000', color: '#000' };
    new Chart(cv, {
      type: 'line',
      data: { datasets },
      plugins: [boxTitlePlugin],
      options: {
        responsive: false, animation: false, events: [], parsing: false,
        devicePixelRatio: 1,
        layout: { padding: { left: 0, top: AX_T, right: CW - AX_L - AX_W, bottom: 0 } },
        plugins: { legend: { display: false }, tooltip: { enabled: false }, title: { display: false },
          boxTitle: { text: weights[c] + ' ' + channels[r] } },
        scales: {
          x: { type: 'linear', min: -0.05 * M, max: 1.05 * M,
            afterBuildTicks: s => { s.ticks = xt.map(v => ({ value: v })); },
            afterFit: s => { s.height = CH - AX_T - AX_H; },
            grid: gridCommon, border: { display: false }, ticks: tickCommon },
          y: { type: 'linear', min: 0, max: 128,
            afterBuildTicks: s => { s.ticks = yTicks.map(v => ({ value: v })); },
            afterFit: s => { s.width = AX_L; },
            grid: gridCommon, border: { display: false }, ticks: tickCommon }
        }
      }
    });
  }
}
</script>
</body></html>
